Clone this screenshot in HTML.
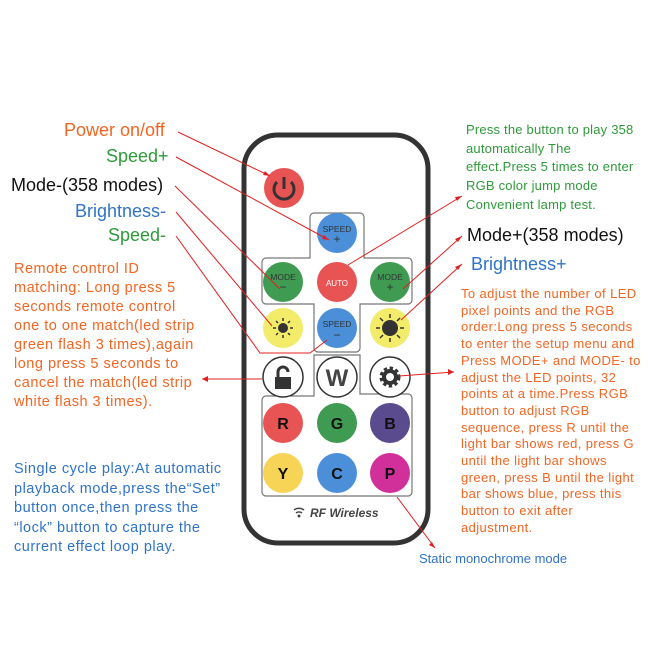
<!DOCTYPE html><html><head><style>
body{margin:0;width:672px;height:672px;background:#fff;position:relative;overflow:hidden;font-family:"Liberation Sans",sans-serif}
.t{position:absolute;white-space:nowrap}
.o{color:#f26522}.g{color:#2f9a3a}.b{color:#2f74c8}.k{color:#111}
.s{font-size:14.5px;line-height:19px;letter-spacing:0.5px}
</style></head><body>
<svg width="672" height="672" style="position:absolute;left:0;top:0">
<rect x="244" y="135" width="184" height="408" rx="34" fill="#fff" stroke="#333" stroke-width="5"/>
<g fill="none" stroke="#777" stroke-width="1.2">
<path d="M314 213 H360 a4 4 0 0 1 4 4 V258 H408 a4 4 0 0 1 4 4 V300 a4 4 0 0 1 -4 4 H360 V348 a4 4 0 0 1 -4 4 H318 a4 4 0 0 1 -4 -4 V304 H266 a4 4 0 0 1 -4 -4 V262 a4 4 0 0 1 4 -4 H310 V217 a4 4 0 0 1 4 -4Z"/>
<path d="M314 355 H360 V394 H408 a4 4 0 0 1 4 4 V492 a4 4 0 0 1 -4 4 H266 a4 4 0 0 1 -4 -4 V400 a4 4 0 0 1 4 -4 H314Z"/>
</g>
<circle cx="284" cy="188" r="20" fill="#e85454"/>
<path d="M277 182 a10 10 0 1 0 14 0" fill="none" stroke="#333" stroke-width="3"/><line x1="284" y1="177" x2="284" y2="189" stroke="#333" stroke-width="3"/>
<g font-size="8.5" text-anchor="middle" fill="#333">
<circle cx="337" cy="233" r="20" fill="#4a8fd8"/><text x="337" y="232">SPEED</text><text x="337" y="243" font-size="12">+</text>
<circle cx="283" cy="282" r="20" fill="#3f9a52"/><text x="283" y="280">MODE</text><text x="283" y="291" font-size="12">−</text>
<circle cx="337" cy="282" r="20" fill="#e85454"/><text x="337" y="286" fill="#fff" font-size="8">AUTO</text>
<circle cx="390" cy="282" r="20" fill="#3f9a52"/><text x="390" y="280">MODE</text><text x="390" y="291" font-size="12">+</text>
<circle cx="283" cy="328" r="20" fill="#f2ec6a"/><circle cx="283" cy="328" r="5" fill="#333"/>
<circle cx="337" cy="328" r="20" fill="#4a8fd8"/><text x="337" y="327">SPEED</text><text x="337" y="339" font-size="12">−</text>
<circle cx="390" cy="328" r="20" fill="#f2ec6a"/><circle cx="390" cy="328" r="8" fill="#333"/>
</g>
<g stroke="#333" stroke-width="1.5"><path d="M283 318v3M283 335v3M273 328h3M290 328h3M276 321l2 2M288 333l2 2M276 335l2-2M288 323l2-2"/><path d="M390 314v4M390 338v4M376 328h4M400 328h4M380 318l3 3M397 335l3 3M380 338l3-3M397 321l3-3"/></g>
<g fill="#fff" stroke="#333" stroke-width="1.5"><circle cx="283" cy="377" r="20"/><circle cx="337" cy="377" r="20"/><circle cx="390" cy="377" r="20"/></g>
<rect x="275" y="377" width="16" height="12" fill="#333"/><path d="M278 377v-5a5 5 0 0 1 10 0" fill="none" stroke="#333" stroke-width="3"/>
<text x="337" y="386" font-size="24" text-anchor="middle" fill="#444" font-weight="bold">W</text>
<circle cx="390" cy="377" r="8" fill="none" stroke="#333" stroke-width="5" stroke-dasharray="3 2.3"/><circle cx="390" cy="377" r="6" fill="none" stroke="#333" stroke-width="4"/>
<g font-size="16" font-weight="bold" text-anchor="middle" fill="#111">
<circle cx="283" cy="423" r="20" fill="#e85454"/><text x="283" y="429">R</text>
<circle cx="337" cy="423" r="20" fill="#3f9a52"/><text x="337" y="429">G</text>
<circle cx="390" cy="423" r="20" fill="#5a4a8e"/><text x="390" y="429">B</text>
<circle cx="283" cy="473" r="20" fill="#f7d356"/><text x="283" y="479">Y</text>
<circle cx="337" cy="473" r="20" fill="#4a8fd8"/><text x="337" y="479">C</text>
<circle cx="390" cy="473" r="20" fill="#d1309a"/><text x="390" y="479">P</text>
</g>
<text x="310" y="517" font-size="12" font-style="italic" font-weight="bold" fill="#444">RF Wireless</text>
<path d="M294 510a8 8 0 0 1 10 0M296 513a5 5 0 0 1 6 0" stroke="#444" fill="none" stroke-width="1.5"/><circle cx="299" cy="516" r="1.5" fill="#444"/>
<g stroke="#e02020" stroke-width="1" fill="none">
<line x1="178" y1="132" x2="270" y2="176"/>
<line x1="176" y1="157" x2="329" y2="240"/>
<line x1="175" y1="186" x2="280" y2="289"/>
<line x1="176" y1="212" x2="272" y2="326"/>
<polyline points="176,236 260,353 310,353 327,340"/>
<line x1="262" y1="379" x2="202" y2="379"/>
<line x1="348" y1="265" x2="462" y2="196"/>
<line x1="403" y1="289" x2="462" y2="236"/>
<line x1="401" y1="320" x2="462" y2="264"/>
<line x1="399" y1="376" x2="454" y2="372"/>
<line x1="397" y1="497" x2="435" y2="548"/>
</g>
<g fill="#e02020">
<path d="M270 176l-7-1 2-4z"/><path d="M329 240l-7-1 2-4z"/><path d="M462 196l-5 5-2-4z"/><path d="M462 236l-4 6-3-3z"/><path d="M462 264l-4 6-3-3z"/><path d="M202 379l6-3v6z"/><path d="M454 372l-6 3v-6z"/><path d="M435 548l-6-3 3-3z"/>
</g>
</svg>
<div class="t o" style="left:64px;top:120px;font-size:18px">Power on/off</div>
<div class="t g" style="left:106px;top:146px;font-size:18px">Speed+</div>
<div class="t k" style="left:11px;top:175px;font-size:18px">Mode-(358 modes)</div>
<div class="t b" style="left:75px;top:201px;font-size:18px">Brightness-</div>
<div class="t g" style="left:108px;top:225px;font-size:18px">Speed-</div>
<div class="t o s" style="left:14px;top:260px">Remote control ID<br>matching: Long press 5<br>seconds remote control<br>one to one match(led strip<br>green flash 3 times),again<br>long press 5 seconds to<br>cancel the match(led strip<br>white flash 3 times).</div>
<div class="t b s" style="left:14px;top:460px;line-height:19.6px">Single cycle play:At automatic<br>playback mode,press the“Set”<br>button once,then press the<br>“lock” button to capture the<br>current effect loop play.</div>
<div class="t g" style="left:466px;top:121px;font-size:13px;line-height:18.7px;letter-spacing:0.2px">Press the button to play 358<br>automatically The<br>effect.Press 5 times to enter<br>RGB color jump mode<br>Convenient lamp test.</div>
<div class="t k" style="left:467px;top:225px;font-size:18px">Mode+(358 modes)</div>
<div class="t b" style="left:471px;top:254px;font-size:18px">Brightness+</div>
<div class="t o" style="left:461px;top:286px;font-size:13px;line-height:16.7px;letter-spacing:0.4px">To adjust the number of LED<br>pixel points and the RGB<br>order:Long press 5 seconds<br>to enter the setup menu and<br>Press MODE+ and MODE- to<br>adjust the LED points, 32<br>points at a time.Press RGB<br>button to adjust RGB<br>sequence, press R until the<br>light bar shows red, press G<br>until the light bar shows<br>green, press B until the light<br>bar shows blue, press this<br>button to exit after<br>adjustment.</div>
<div class="t b" style="left:419px;top:551px;font-size:13px">Static monochrome mode</div>
</body></html>
